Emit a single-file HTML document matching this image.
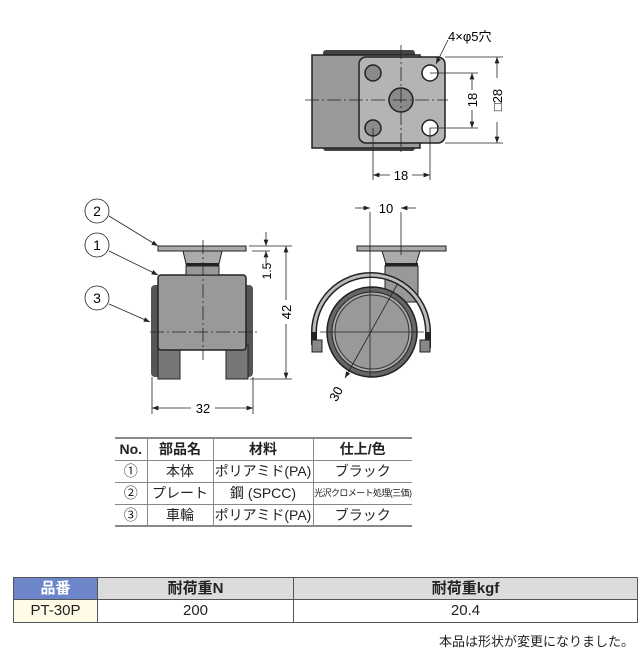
<!DOCTYPE html>
<html><head><meta charset="utf-8"><style>
body{margin:0;width:644px;height:654px;background:#fff;overflow:hidden;position:relative;font-family:"Liberation Sans","Noto Sans CJK JP",sans-serif;}
svg{position:absolute;left:0;top:0}
.t{position:absolute;border-collapse:collapse;font-size:14px;color:#222;table-layout:fixed}
.t td{padding:0;white-space:nowrap;overflow:hidden;line-height:16px}
</style></head><body>
<svg width="644" height="654" viewBox="0 0 644 654" font-family="Liberation Sans, Noto Sans CJK JP, sans-serif">
<defs><marker id="a" markerWidth="8" markerHeight="6" refX="8" refY="3" orient="auto-start-reverse"><path d="M0,0L8,3L0,6z" fill="#222"/></marker></defs>
<!-- top view -->
<rect x="323" y="50" width="92" height="8" rx="3" fill="#444"/>
<rect x="323" y="143" width="92" height="8" rx="3" fill="#444"/>
<rect x="312" y="55" width="108" height="93" fill="#9a9a9a" stroke="#222" stroke-width="1.5"/>
<rect x="359" y="57" width="86" height="86" rx="7" fill="#b4b4b4" stroke="#222" stroke-width="1.5"/>
<g fill="#8a8a8a" stroke="#222" stroke-width="1.5"><circle cx="373" cy="73" r="8"/><circle cx="373" cy="128" r="8"/><circle cx="401" cy="100" r="12"/></g>
<g fill="#fff" stroke="#222" stroke-width="1.5"><circle cx="430" cy="73" r="8"/><circle cx="430" cy="128" r="8"/></g>
<g stroke="#222" stroke-width="0.8" fill="none"><line x1="305" y1="100" x2="448" y2="100" stroke-dasharray="14,3,2,3"/><line x1="401" y1="45" x2="401" y2="155" stroke-dasharray="14,3,2,3"/>
<line x1="430" y1="73" x2="478" y2="73"/><line x1="430" y1="128" x2="478" y2="128"/><line x1="445" y1="57" x2="503" y2="57"/><line x1="445" y1="143" x2="503" y2="143"/>
<line x1="373" y1="128" x2="373" y2="180"/><line x1="430" y1="128" x2="430" y2="180"/>
<line x1="472" y1="73" x2="472" y2="128" marker-start="url(#a)" marker-end="url(#a)"/>
<line x1="497" y1="57" x2="497" y2="143" marker-start="url(#a)" marker-end="url(#a)"/>
<line x1="373" y1="175" x2="430" y2="175" marker-start="url(#a)" marker-end="url(#a)"/>
<line x1="448" y1="40" x2="436" y2="64" marker-end="url(#a)"/></g>
<rect x="390" y="168" width="22" height="14" fill="#fff"/><text x="401" y="180" font-size="13" text-anchor="middle">18</text>
<rect x="465" y="90" width="14" height="20" fill="#fff"/><text transform="translate(477,100) rotate(-90)" font-size="13" text-anchor="middle">18</text>
<rect x="490" y="78" width="14" height="44" fill="#fff"/><text transform="translate(502,100) rotate(-90)" font-size="13" text-anchor="middle">□28</text>
<text x="448" y="41" font-size="13">4×φ5穴</text>
<!-- front view -->
<rect x="151" y="285" width="10" height="92" rx="4" fill="#555"/><rect x="243" y="285" width="10" height="92" rx="4" fill="#555"/>
<rect x="158" y="345" width="22" height="34" fill="#777" stroke="#222"/><rect x="226" y="345" width="22" height="34" fill="#777" stroke="#222"/>
<rect x="158" y="275" width="88" height="75" rx="3" fill="#999" stroke="#222" stroke-width="1.5"/>
<path d="M183,251 L222,251 L218,268 L187,268z" fill="#aaa" stroke="#222"/>
<rect x="186" y="263" width="33" height="3" fill="#222"/><rect x="186" y="266" width="33" height="9" fill="#999" stroke="#222"/>
<rect x="158" y="246" width="88" height="5" fill="#aaa" stroke="#222"/>
<g stroke="#222" stroke-width="0.8" fill="none"><line x1="203" y1="240" x2="203" y2="360" stroke-dasharray="14,3,2,3"/><line x1="150" y1="332" x2="258" y2="332" stroke-dasharray="14,3,2,3"/>
<line x1="249" y1="246" x2="292" y2="246"/><line x1="252" y1="251" x2="270" y2="251"/><line x1="250" y1="379" x2="292" y2="379"/>
<line x1="152" y1="377" x2="152" y2="414"/><line x1="253" y1="377" x2="253" y2="414"/>
<line x1="286" y1="246" x2="286" y2="379" marker-start="url(#a)" marker-end="url(#a)"/>
<line x1="266" y1="232" x2="266" y2="246" marker-end="url(#a)"/><line x1="266" y1="266" x2="266" y2="251" marker-end="url(#a)"/>
<line x1="152" y1="408" x2="253" y2="408" marker-start="url(#a)" marker-end="url(#a)"/>
<line x1="109" y1="216" x2="158" y2="246" marker-end="url(#a)"/><line x1="109" y1="251" x2="158" y2="275" marker-end="url(#a)"/><line x1="109" y1="304" x2="150" y2="322" marker-end="url(#a)"/>
<circle cx="97" cy="211" r="12" fill="#fff"/><circle cx="97" cy="245" r="12" fill="#fff"/><circle cx="97" cy="298" r="12" fill="#fff"/></g>
<g font-size="14" text-anchor="middle"><text x="97" y="216">2</text><text x="97" y="250">1</text><text x="97" y="303">3</text></g>
<rect x="279" y="300" width="14" height="24" fill="#fff"/><text transform="translate(291,312) rotate(-90)" font-size="13" text-anchor="middle">42</text>
<text transform="translate(271,271) rotate(-90)" font-size="12" text-anchor="middle">1.5</text>
<rect x="191" y="401" width="24" height="14" fill="#fff"/><text x="203" y="413" font-size="13" text-anchor="middle">32</text>
<!-- side view -->
<rect x="385" y="266" width="33" height="36" fill="#999" stroke="#222"/>
<path d="M382,251 L420,251 L416,264 L386,264z" fill="#aaa" stroke="#222"/><rect x="385" y="263" width="33" height="3" fill="#222"/>
<rect x="357" y="246" width="89" height="5" fill="#aaa" stroke="#222"/>
<path d="M314,345 L314,332 A57,57 0 0 1 428,332 L428,348" fill="none" stroke="#222" stroke-width="6"/>
<path d="M314,332 A57,57 0 0 1 428,332" fill="none" stroke="#bbb" stroke-width="3"/>
<rect x="312" y="340" width="10" height="12" fill="#888" stroke="#222"/><rect x="420" y="340" width="10" height="12" fill="#888" stroke="#222"/>
<circle cx="372" cy="332" r="45" fill="#666" stroke="#222" stroke-width="1.5"/>
<circle cx="372" cy="332" r="40" fill="#aaa" stroke="#222"/>
<circle cx="372" cy="332" r="37" fill="#999" stroke="#333"/>
<g stroke="#222" stroke-width="0.8" fill="none"><line x1="320" y1="332" x2="424" y2="332"/><line x1="370" y1="212" x2="370" y2="378"/><line x1="401" y1="212" x2="401" y2="255"/>
<line x1="398" y1="283" x2="345" y2="378" marker-end="url(#a)"/>
<line x1="355" y1="208" x2="370" y2="208" marker-end="url(#a)"/><line x1="416" y1="208" x2="401" y2="208" marker-end="url(#a)"/></g>
<text x="386" y="213" font-size="13" text-anchor="middle">10</text>
<text transform="translate(340,396) rotate(-62)" font-size="13" text-anchor="middle">30</text>
</svg>
<table class="t" style="left:115px;top:437px;width:297px;border-top:2px solid #888;border-bottom:2px solid #888">
<col style="width:32px"><col style="width:66px"><col style="width:100px"><col>
<tr style="height:22px;font-weight:bold"><td style="text-align:center;border-right:1px solid #888;border-bottom:1px solid #888">No.</td><td style="text-align:center;border-right:1px solid #888;border-bottom:1px solid #888">部品名</td><td style="text-align:center;border-right:1px solid #888;border-bottom:1px solid #888">材料</td><td style="text-align:center;border-bottom:1px solid #888">仕上/色</td></tr>
<tr style="height:22px"><td style="text-align:center;border-right:1px solid #888;border-bottom:1px solid #888">①</td><td style="text-align:center;border-right:1px solid #888;border-bottom:1px solid #888">本体</td><td style="text-align:center;border-right:1px solid #888;border-bottom:1px solid #888">ポリアミド(PA)</td><td style="text-align:center;border-bottom:1px solid #888">ブラック</td></tr>
<tr style="height:22px"><td style="text-align:center;border-right:1px solid #888;border-bottom:1px solid #888">②</td><td style="text-align:center;border-right:1px solid #888;border-bottom:1px solid #888">プレート</td><td style="text-align:center;border-right:1px solid #888;border-bottom:1px solid #888">鋼 (SPCC)</td><td style="text-align:center;border-bottom:1px solid #888;font-size:9px;letter-spacing:-0.6px">光沢クロメート処理(三価)</td></tr>
<tr style="height:22px"><td style="text-align:center;border-right:1px solid #888">③</td><td style="text-align:center;border-right:1px solid #888">車輪</td><td style="text-align:center;border-right:1px solid #888">ポリアミド(PA)</td><td style="text-align:center">ブラック</td></tr>
</table>
<table class="t" style="left:13px;top:577px;width:625px;border:1px solid #555;font-size:15px">
<col style="width:84px"><col style="width:196px"><col>
<tr style="height:22px;font-weight:bold"><td style="background:#6d86c9;color:#fff;text-align:center;border:1px solid #555">品番</td><td style="background:#dcdcdc;text-align:center;border:1px solid #555">耐荷重N</td><td style="background:#dcdcdc;text-align:center;border:1px solid #555">耐荷重kgf</td></tr>
<tr style="height:23px"><td style="background:#fffbe6;text-align:center;border:1px solid #555">PT-30P</td><td style="text-align:center;border:1px solid #555">200</td><td style="text-align:center;border:1px solid #555">20.4</td></tr>
</table>
<div style="position:absolute;right:10px;top:631px;font-size:13px;color:#222">本品は形状が変更になりました。</div>
</body></html>
